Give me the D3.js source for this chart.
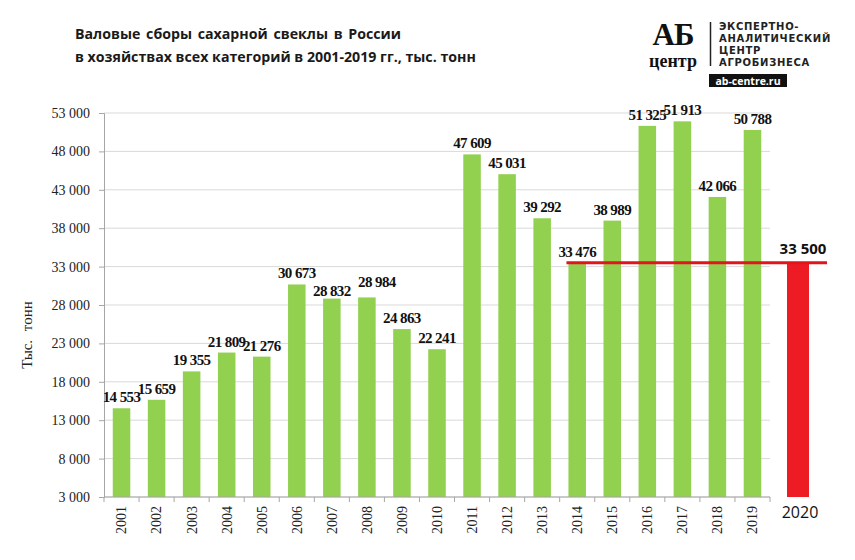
<!DOCTYPE html>
<html>
<head>
<meta charset="utf-8">
<script src="https://cdn.jsdelivr.net/npm/d3@7"></script>
<style>
  body { margin: 0; background: #fff; }
  svg { display: block; }
</style>
</head>
<body>
<div id="chart"></div>
<script>
// Data
var years = ["2001", "2002", "2003", "2004", "2005", "2006", "2007", "2008", "2009", "2010",
    "2011", "2012", "2013", "2014", "2015", "2016", "2017", "2018", "2019"];
var harvest = [14553, 15659, 19355, 21809, 21276, 30673, 28832, 28984, 24863, 22241,
    47609, 45031, 39292, 33476, 38989, 51325, 51913, 42066, 50788];
var forecastYear = ["2020"];
var forecastValue = [33500];
var yTicks = [3000, 8000, 13000, 18000, 23000, 28000, 33000, 38000, 43000, 48000, 53000];

var W = 855, H = 560;
var margin = { top: 113, right: 85, bottom: 63, left: 104 },
    width = W - margin.left - margin.right,
    height = H - margin.top - margin.bottom;

var fmt = function (v) { return d3.format(",")(v).replace(/,/g, " "); };

// a few labels were nudged by hand in the original
var labelNudge = { "2007": [0, 3], "2008": [10, -4] };

var svg = d3.select("#chart")
    .append("svg")
    .attr("width", W)
    .attr("height", H);

// Title
var title = svg.append("text")
    .attr("font-family", "'Open Sans', sans-serif")
    .attr("font-weight", "bold")
    .attr("font-size", "14.2px")
    .attr("fill", "#1a1a1a");
title.append("tspan").attr("x", 75).attr("y", 39).attr("word-spacing", "2px")
    .text("Валовые сборы сахарной свеклы в России");
title.append("tspan").attr("x", 75).attr("y", 62)
    .text("в хозяйствах всех категорий в 2001-2019 гг., тыс. тонн");

var g = svg.append("g")
    .attr("transform", "translate(" + margin.left + "," + margin.top + ")");

// Scales
var x = d3.scaleBand()
    .domain(years)
    .range([0, width])
    .paddingInner(0.5)
    .paddingOuter(0.25);

var y = d3.scaleLinear()
    .domain([3000, 53000])
    .range([height, 0]);

// Gridlines
g.append("g")
    .selectAll("line")
    .data(yTicks)
    .enter()
    .append("line")
    .attr("x1", 0)
    .attr("x2", width)
    .attr("y1", function (d) { return y(d); })
    .attr("y2", function (d) { return y(d); })
    .attr("stroke", "#d9d9d9")
    .attr("stroke-width", 1);

// Y axis
var yAxis = g.append("g")
    .call(d3.axisLeft(y).tickValues(yTicks).tickFormat(fmt).tickSize(5).tickPadding(9));
yAxis.select(".domain").attr("stroke", "#a6a6a6");
yAxis.selectAll(".tick line").attr("stroke", "#a6a6a6");
yAxis.selectAll("text")
    .attr("font-family", "'Liberation Serif', 'Times New Roman', serif")
    .attr("font-size", "14px")
    .attr("fill", "#222");

// Bars
g.selectAll(".bar")
    .data(harvest)
    .enter()
    .append("rect")
    .attr("class", "bar")
    .attr("x", function (d, i) { return x(years[i]); })
    .attr("y", function (d) { return y(d); })
    .attr("width", x.bandwidth())
    .attr("height", function (d) { return height - y(d); })
    .attr("fill", "#92d050");

// X axis line and tick marks between categories
g.append("line")
    .attr("x1", 0).attr("x2", width)
    .attr("y1", height).attr("y2", height)
    .attr("stroke", "#a6a6a6");

var step = x.step();
var bounds = years.map(function (d) { return x(d) - (step - x.bandwidth()) / 2; });
bounds.push(width);
g.append("g")
    .selectAll("line")
    .data(bounds)
    .enter()
    .append("line")
    .attr("x1", function (d) { return d; })
    .attr("x2", function (d) { return d; })
    .attr("y1", height)
    .attr("y2", height + 5)
    .attr("stroke", "#a6a6a6");

// Year labels (rotated)
g.append("g")
    .selectAll("text")
    .data(years)
    .enter()
    .append("text")
    .attr("transform", function (d) {
        return "translate(" + (x(d) + x.bandwidth() / 2) + "," + (height + 9) + ") rotate(-90)";
    })
    .attr("text-anchor", "end")
    .attr("dy", "0.35em")
    .attr("font-family", "'Liberation Serif', 'Times New Roman', serif")
    .attr("font-size", "14px")
    .attr("fill", "#222")
    .text(function (d) { return d; });

// Value labels
g.append("g")
    .selectAll("text")
    .data(harvest)
    .enter()
    .append("text")
    .attr("x", function (d, i) {
        var n = labelNudge[years[i]] || [0, 0];
        return x(years[i]) + x.bandwidth() / 2 + n[0];
    })
    .attr("y", function (d, i) {
        var n = labelNudge[years[i]] || [0, 0];
        return y(d) - 6 + n[1];
    })
    .attr("text-anchor", "middle")
    .attr("font-family", "'Liberation Serif', 'Times New Roman', serif")
    .attr("font-weight", "bold")
    .attr("font-size", "15px")
    .attr("letter-spacing", "-0.6px")
    .attr("fill", "#111")
    .text(function (d) { return fmt(d); });

// Forecast 2020
var x2 = d3.scaleBand()
    .domain(forecastYear)
    .range([width + 6, width + 50])
    .paddingInner(0)
    .paddingOuter(0.5);

g.selectAll(".fbar")
    .data(forecastValue)
    .enter()
    .append("rect")
    .attr("class", "fbar")
    .attr("x", function (d, i) { return x2(forecastYear[i]); })
    .attr("y", function (d) { return y(d); })
    .attr("width", x2.bandwidth())
    .attr("height", function (d) { return height - y(d); })
    .attr("fill", "#ed1c24");

g.selectAll(".fline")
    .data(forecastValue)
    .enter()
    .append("line")
    .attr("x1", x("2014") - 2)
    .attr("x2", width + 57)
    .attr("y1", function (d) { return y(d); })
    .attr("y2", function (d) { return y(d); })
    .attr("stroke", "#e3151c")
    .attr("stroke-width", 3);

g.selectAll(".flabel")
    .data(forecastValue)
    .enter()
    .append("text")
    .attr("x", function (d, i) { return x2(forecastYear[i]) + x2.bandwidth() / 2 + 5; })
    .attr("y", function (d) { return y(d) - 9; })
    .attr("text-anchor", "middle")
    .attr("font-family", "'Open Sans', sans-serif")
    .attr("font-weight", "bold")
    .attr("font-size", "15px")
    .attr("fill", "#111")
    .text(function (d) { return fmt(d); });

g.append("text")
    .attr("x", x2(forecastYear[0]) + x2.bandwidth() / 2 + 2)
    .attr("y", height + 21)
    .attr("text-anchor", "middle")
    .attr("font-family", "'Open Sans', sans-serif")
    .attr("font-size", "16px")
    .attr("fill", "#111")
    .text(forecastYear[0]);

// Y axis title
svg.append("text")
    .attr("transform", "translate(32,335) rotate(-90)")
    .attr("text-anchor", "middle")
    .attr("font-family", "'Liberation Serif', 'Times New Roman', serif")
    .attr("font-size", "15px")
    .attr("word-spacing", "5px")
    .attr("fill", "#222")
    .text("Тыс. тонн");

// Logo
var logo = svg.append("g");
logo.append("text")
    .attr("x", 673).attr("y", 45)
    .attr("text-anchor", "middle")
    .attr("font-family", "'Liberation Serif', serif")
    .attr("font-weight", "bold")
    .attr("font-size", "31px")
    .attr("letter-spacing", "-1px")
    .attr("fill", "#111")
    .text("АБ");
logo.append("text")
    .attr("x", 673).attr("y", 67)
    .attr("text-anchor", "middle")
    .attr("font-family", "'Liberation Serif', serif")
    .attr("font-weight", "bold")
    .attr("font-size", "18px")
    .attr("fill", "#111")
    .text("центр");
logo.append("line")
    .attr("x1", 710.5).attr("x2", 710.5)
    .attr("y1", 22).attr("y2", 66)
    .attr("stroke", "#222").attr("stroke-width", 1.5);
var logoLines = ["ЭКСПЕРТНО-", "АНАЛИТИЧЕСКИЙ", "ЦЕНТР", "АГРОБИЗНЕСА"];
logo.selectAll(".ll")
    .data(logoLines)
    .enter()
    .append("text")
    .attr("x", 719)
    .attr("y", function (d, i) { return 30 + i * 12; })
    .attr("font-family", "'DejaVu Sans', sans-serif")
    .attr("font-weight", "bold")
    .attr("font-size", "10px")
    .attr("letter-spacing", "0.7px")
    .attr("fill", "#222")
    .text(function (d) { return d; });
logo.append("rect")
    .attr("x", 709).attr("y", 74)
    .attr("width", 78).attr("height", 13)
    .attr("fill", "#111");
logo.append("text")
    .attr("x", 748).attr("y", 84.5)
    .attr("text-anchor", "middle")
    .attr("font-family", "'Open Sans', sans-serif")
    .attr("font-weight", "bold")
    .attr("font-size", "10.5px")
    .attr("fill", "#fff")
    .text("ab-centre.ru");
</script>
</body>
</html>
